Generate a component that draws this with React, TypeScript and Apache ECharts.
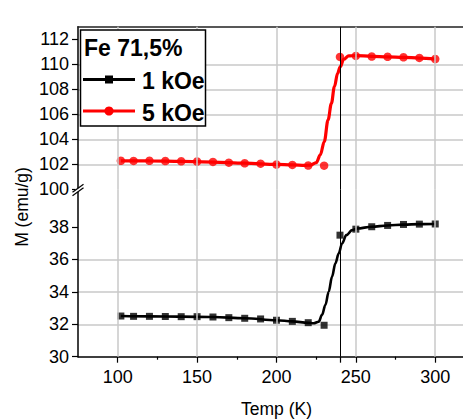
import React, { useEffect, useRef } from "react";
import * as echarts from "echarts";

const FONT = '"Liberation Sans", Arial, Helvetica, sans-serif';

// Measured temperatures (K)
const temps = [102, 110, 120, 130, 140, 150, 160, 170, 180, 190, 200, 210, 220, 230, 240, 250, 260, 270, 280, 290, 300];

// Magnetization (emu/g) at 1 kOe and 5 kOe
const m1kOe = [32.51, 32.49, 32.49, 32.48, 32.47, 32.47, 32.45, 32.41, 32.37, 32.33, 32.25, 32.18, 32.1, 31.94, 37.5, 37.87, 38.02, 38.1, 38.16, 38.18, 38.19];
const m5kOe = [102.28, 102.27, 102.28, 102.26, 102.24, 102.22, 102.19, 102.13, 102.08, 102.05, 101.98, 101.95, 101.9, 101.89, 110.59, 110.67, 110.62, 110.6, 110.56, 110.51, 110.42];

// Fitted transition curves
const fit1kOeT = [102, 120, 140, 160, 180, 200, 210, 220, 223.4, 226.6, 228.7, 230.8, 232.9, 235.0, 237.1, 239.2, 241.3, 244.0, 247.6, 250.8, 260, 270, 280, 290, 300];
const fit1kOeM = [32.51, 32.49, 32.47, 32.45, 32.37, 32.25, 32.18, 32.09, 32.06, 32.16, 32.58, 33.19, 34.01, 34.94, 35.76, 36.37, 36.99, 37.5, 37.81, 37.91, 38.02, 38.1, 38.15, 38.18, 38.19];
const fit5kOeT = [102, 120, 140, 160, 180, 200, 210, 218, 221.3, 225.1, 227.6, 230.1, 232.5, 234.6, 236.5, 238.5, 240.2, 242.3, 245.5, 250, 260, 270, 280, 290, 300];
const fit5kOeM = [102.28, 102.27, 102.24, 102.18, 102.09, 101.99, 101.95, 101.92, 101.93, 102.13, 102.75, 103.81, 105.55, 106.88, 108.21, 109.28, 109.81, 110.4, 110.67, 110.7, 110.64, 110.6, 110.56, 110.5, 110.42];

// Axis ticks
const xTickLabels = [100, 150, 200, 250, 300];
const xMinorTicks = [125, 175, 225, 275];
const transitionT = 240;
const yUpperTicks = [100, 102, 104, 106, 108, 110, 112];
const yUpperMinor = [101, 103, 105, 107, 109, 111];
const yLowerTicks = [30, 32, 34, 36, 38];
const yLowerMinor = [31, 33, 35, 37, 39];

const legendTitle = "Fe 71,5%";
const series1Name = "1 kOe";
const series5Name = "5 kOe";

const zip = (xs: number[], ys: number[]) => xs.map((x, i) => [x, ys[i]]);

const GRID_COLOR = "#c8c8c8";
const X_MIN = 75;
const X_MAX = 320;

function buildOption() {
  const tickLabel = { fontSize: 18, color: "#000", fontFamily: FONT };
  const hiddenAxisParts = {
    axisLabel: { show: false },
    splitLine: { show: false },
  };
  return {
    animation: false,
    backgroundColor: "#fff",
    grid: [
      { left: 78, top: 26.8, width: 389, height: 162.5, outerBoundsMode: "none" },
      { left: 78, top: 189.3, width: 389, height: 167.4, outerBoundsMode: "none" },
    ],
    xAxis: [
      {
        gridIndex: 0,
        type: "value",
        min: X_MIN,
        max: X_MAX,
        position: "top",
        axisLine: { show: true, onZero: false, lineStyle: { color: "#222", width: 1.5 } },
        axisTick: { show: false },
        ...hiddenAxisParts,
      },
      {
        gridIndex: 1,
        type: "value",
        min: X_MIN,
        max: X_MAX,
        position: "bottom",
        axisLine: { show: true, onZero: false, lineStyle: { color: "#000", width: 1.5 } },
        axisTick: {
          show: true,
          inside: false,
          length: 6,
          customValues: [...xTickLabels, transitionT],
          lineStyle: { color: "#000", width: 1.2 },
        },
        axisLabel: { ...tickLabel, margin: 11, customValues: xTickLabels },
        splitLine: { show: false },
        name: "Temp (K)",
        nameLocation: "middle",
        nameGap: 43,
        nameTextStyle: { fontSize: 17.5, color: "#000", fontFamily: FONT, padding: [0, 0, 0, 8] },
      },
      {
        gridIndex: 1,
        type: "value",
        min: X_MIN,
        max: X_MAX,
        position: "bottom",
        axisLine: { show: false, onZero: false },
        axisTick: { show: true, inside: false, length: 3, customValues: xMinorTicks, lineStyle: { color: "#000", width: 1.2 } },
        ...hiddenAxisParts,
      },
    ],
    yAxis: [
      {
        gridIndex: 0,
        type: "value",
        min: 100,
        max: 113,
        interval: 2,
        axisLine: { show: true, onZero: false, lineStyle: { color: "#000", width: 1.5 } },
        axisTick: { show: true, inside: false, length: 6, customValues: yUpperTicks, lineStyle: { color: "#000", width: 1.2 } },
        axisLabel: { ...tickLabel, margin: 9, customValues: yUpperTicks },
        splitLine: { show: true, showMinLine: false, showMaxLine: false, lineStyle: { color: GRID_COLOR, width: 1.5 } },
      },
      {
        gridIndex: 0,
        type: "value",
        min: 100,
        max: 113,
        axisLine: { show: false, onZero: false },
        axisTick: { show: true, inside: false, length: 3, customValues: yUpperMinor, lineStyle: { color: "#000", width: 1.2 } },
        ...hiddenAxisParts,
      },
      {
        gridIndex: 1,
        type: "value",
        min: 30,
        max: 40.33,
        interval: 2,
        axisLine: { show: true, onZero: false, lineStyle: { color: "#000", width: 1.5 } },
        axisTick: { show: true, inside: false, length: 6, customValues: yLowerTicks, lineStyle: { color: "#000", width: 1.2 } },
        axisLabel: { ...tickLabel, margin: 9, customValues: yLowerTicks },
        splitLine: { show: true, showMinLine: false, showMaxLine: false, lineStyle: { color: GRID_COLOR, width: 1.5 } },
      },
      {
        gridIndex: 1,
        type: "value",
        min: 30,
        max: 40.33,
        axisLine: { show: false, onZero: false },
        axisTick: { show: true, inside: false, length: 3, customValues: yLowerMinor, lineStyle: { color: "#000", width: 1.2 } },
        ...hiddenAxisParts,
      },
    ],
    series: [0, 1].map((g) => ({
      type: "scatter",
      name: g === 0 ? "grid-upper" : "grid-lower",
      xAxisIndex: g,
      yAxisIndex: g * 2,
      data: [],
      silent: true,
      z: 1,
      markLine: {
        silent: true,
        symbol: ["none", "none"],
        label: { show: false },
        lineStyle: { color: GRID_COLOR, width: 1.5, type: "solid" },
        data: [
          ...xTickLabels.map((v) => ({ xAxis: v })),
          { xAxis: transitionT, lineStyle: { color: "#000", width: 1, type: "solid" } },
        ],
      },
    })).concat([
      {
        type: "line",
        name: series5Name + " fit",
        xAxisIndex: 0,
        yAxisIndex: 0,
        data: zip(fit5kOeT, fit5kOeM),
        smooth: 0.35,
        smoothMonotone: "x",
        symbol: "none",
        showSymbol: false,
        lineStyle: { color: "#ff0000", width: 3.2 },
        z: 3,
      } as any,
      {
        type: "scatter",
        name: series5Name,
        xAxisIndex: 0,
        yAxisIndex: 0,
        data: zip(temps, m5kOe),
        symbol: "circle",
        symbolSize: 8.5,
        itemStyle: { color: "#ff0000" },
        z: 4,
      },
      {
        type: "line",
        name: series1Name + " fit",
        xAxisIndex: 1,
        yAxisIndex: 2,
        data: zip(fit1kOeT, fit1kOeM),
        smooth: 0.35,
        smoothMonotone: "x",
        symbol: "none",
        showSymbol: false,
        lineStyle: { color: "#000", width: 2.6 },
        z: 3,
      },
      {
        type: "scatter",
        name: series1Name,
        xAxisIndex: 1,
        yAxisIndex: 2,
        data: zip(temps, m1kOe),
        symbol: "rect",
        symbolSize: 7,
        itemStyle: { color: "#000" },
        z: 4,
      },
    ]),
    graphic: [
      // y-axis title
      {
        type: "text",
        x: 22,
        y: 207,
        rotation: Math.PI / 2,
        z: 10,
        style: {
          text: "M (emu/g)",
          font: `17.5px ${FONT}`,
          fill: "#000",
          align: "center",
          verticalAlign: "middle",
          textAlign: "center",
          textVerticalAlign: "middle",
        },
      },
      // axis break marker
      { type: "rect", z: 20, shape: { x: 75.5, y: 188.2, width: 5, height: 3.6 }, style: { fill: "#fff" } },
      { type: "line", z: 21, shape: { x1: 72.5, y1: 192.2, x2: 83.5, y2: 184.2 }, style: { stroke: "#000", lineWidth: 1.2 } },
      { type: "line", z: 21, shape: { x1: 72.5, y1: 195.8, x2: 83.5, y2: 187.8 }, style: { stroke: "#000", lineWidth: 1.2 } },
      // legend box
      {
        type: "rect",
        z: 30,
        shape: { x: 80.5, y: 30, width: 125, height: 96 },
        style: { fill: "#fff", stroke: "#000", lineWidth: 1.5 },
      },
      {
        type: "text",
        z: 31,
        x: 84,
        y: 47.5,
        style: {
          text: legendTitle,
          font: `bold 23px ${FONT}`,
          fill: "#000",
          verticalAlign: "middle",
          textVerticalAlign: "middle",
        },
      },
      { type: "line", z: 31, shape: { x1: 83, y1: 79.5, x2: 135, y2: 79.5 }, style: { stroke: "#000", lineWidth: 3 } },
      { type: "rect", z: 32, shape: { x: 105, y: 75.5, width: 8, height: 8 }, style: { fill: "#000" } },
      {
        type: "text",
        z: 31,
        x: 142,
        y: 81,
        style: { text: series1Name, font: `bold 23px ${FONT}`, fill: "#000", verticalAlign: "middle", textVerticalAlign: "middle" },
      },
      { type: "line", z: 31, shape: { x1: 83, y1: 111, x2: 135, y2: 111 }, style: { stroke: "#ff0000", lineWidth: 3 } },
      { type: "circle", z: 32, shape: { cx: 109, cy: 111, r: 4.6 }, style: { fill: "#ff0000" } },
      {
        type: "text",
        z: 31,
        x: 142,
        y: 113,
        style: { text: series5Name, font: `bold 23px ${FONT}`, fill: "#000", verticalAlign: "middle", textVerticalAlign: "middle" },
      },
    ],
  };
}

export default function App() {
  const ref = useRef<HTMLDivElement>(null);
  useEffect(() => {
    if (!ref.current) return;
    const chart = echarts.init(ref.current, null, { renderer: "svg" });
    chart.setOption(buildOption() as any);
    return () => chart.dispose();
  }, []);
  return (
    <div
      ref={ref}
      style={{ position: "fixed", left: 0, top: 0, width: 463, height: 419, background: "#fff", overflow: "hidden" }}
    />
  );
}
